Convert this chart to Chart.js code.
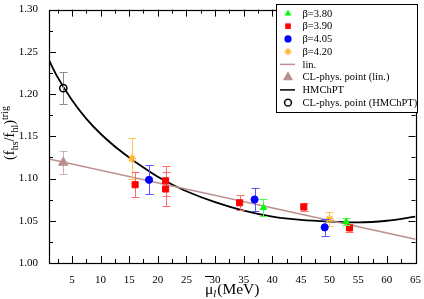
<!DOCTYPE html>
<html>
<head>
<meta charset="utf-8">
<script src="https://cdn.jsdelivr.net/npm/chart.js@4.4.0/dist/chart.umd.min.js"></script>
<style>
html, body { margin: 0; padding: 0; background: #fff; }
</style>
</head>
<body>
<canvas id="chart" width="424" height="299"></canvas>
<script>
// valeurs
const xTicks = [5, 10, 15, 20, 25, 30, 35, 40, 45, 50, 55, 60, 65];
const yTicks = [1.00, 1.05, 1.10, 1.15, 1.20, 1.25, 1.30];

const b380_x = [38.45, 52.9];
const b380_y = [1.0655, 1.0488];
const b380_err = [0.010, 0.004];

const b390_x = [16.04, 21.36, 21.36, 34.29, 45.5, 53.47];
const b390_y = [1.0927, 1.0973, 1.0876, 1.0713, 1.0663, 1.0415];
const b390_err = [0.0145, 0.0175, 0.0205, 0.009, 0.005, 0.0045];

const b405_x = [18.47, 36.9, 49.14];
const b405_y = [1.0985, 1.0752, 1.0422];
const b405_err = [0.017, 0.0135, 0.010];

const b420_x = [15.47, 49.98];
const b420_y = [1.1236, 1.052];
const b420_err = [0.024, 0.0085];

const lin_x = [1, 65];
const lin_y = [1.123, 1.028];

const clLin_x = [3.5];
const clLin_y = [1.119];
const clLin_err = [0.014];

const hm_x = [1, 2.5, 5, 7.5, 10, 12.5, 15, 17.5, 20, 22.5, 25, 30, 35, 40, 45, 50, 55, 60, 65];
const hm_y = [1.240, 1.220, 1.193, 1.171, 1.153, 1.138, 1.125, 1.113, 1.102, 1.093, 1.085, 1.072, 1.062, 1.055, 1.051, 1.049, 1.048, 1.050, 1.055];

const clHm_x = [3.5];
const clHm_y = [1.207];
const clHm_err = [0.019];

function pts(xs, ys) {
    return xs.map((x, i) => ({ x: x, y: ys[i] }));
}

const serif = '"Liberation Serif", "Times New Roman", serif';

// barres d'erreur dessinées juste avant les points du dataset
const errorBars = {
    id: 'errorBars',
    beforeDatasetDraw(chart, args) {
        const ds = chart.data.datasets[args.index];
        if (!ds.err) return;
        const ctx = chart.ctx;
        const xs = chart.scales.x, ys = chart.scales.y;
        ctx.save();
        ctx.strokeStyle = ds.errColor;
        ctx.lineWidth = 1;
        ds.data.forEach((p, i) => {
            const px = Math.round(xs.getPixelForValue(p.x)) + 0.5;
            const y1 = ys.getPixelForValue(p.y + ds.err[i]);
            const y2 = ys.getPixelForValue(p.y - ds.err[i]);
            ctx.beginPath();
            ctx.moveTo(px, y1); ctx.lineTo(px, y2);
            ctx.moveTo(px - 4, Math.round(y1) + 0.5); ctx.lineTo(px + 4, Math.round(y1) + 0.5);
            ctx.moveTo(px - 4, Math.round(y2) + 0.5); ctx.lineTo(px + 4, Math.round(y2) + 0.5);
            ctx.stroke();
        });
        ctx.restore();
    }
};

function drawSymbol(ctx, style, x, y, r, color, fill) {
    ctx.save();
    ctx.strokeStyle = color;
    ctx.fillStyle = color;
    ctx.beginPath();
    if (style === 'triangle') {
        ctx.moveTo(x, y - r);
        ctx.lineTo(x + r * 0.866, y + r * 0.5);
        ctx.lineTo(x - r * 0.866, y + r * 0.5);
        ctx.closePath();
        ctx.fill();
    } else if (style === 'rect') {
        ctx.rect(x - r * 0.7, y - r * 0.7, r * 1.4, r * 1.4);
        ctx.fill();
    } else if (style === 'circle') {
        ctx.arc(x, y, r, 0, Math.PI * 2);
        if (fill) ctx.fill();
        else { ctx.lineWidth = 1.5; ctx.stroke(); }
    } else if (style === 'star') {
        ctx.lineWidth = 1.3;
        for (let k = 0; k < 4; k++) {
            const a = k * Math.PI / 4;
            ctx.moveTo(x - Math.cos(a) * r, y - Math.sin(a) * r);
            ctx.lineTo(x + Math.cos(a) * r, y + Math.sin(a) * r);
        }
        ctx.stroke();
    } else if (style === 'line') {
        ctx.lineWidth = 1.5;
        ctx.moveTo(x - 8, y); ctx.lineTo(x + 7, y);
        ctx.stroke();
    }
    ctx.restore();
}

// cadre, graduations internes, légende et titres des axes
const decor = {
    id: 'decor',
    afterDraw(chart) {
        const ctx = chart.ctx;
        const a = chart.chartArea;
        const xs = chart.scales.x, ys = chart.scales.y;
        ctx.save();
        ctx.strokeStyle = '#000';
        ctx.lineWidth = 1;
        ctx.beginPath();
        xTicks.forEach(v => {
            const px = Math.round(xs.getPixelForValue(v)) + 0.5;
            ctx.moveTo(px, a.bottom); ctx.lineTo(px, a.bottom - 7);
            ctx.moveTo(px, a.top); ctx.lineTo(px, a.top + 7);
            const m = Math.round(xs.getPixelForValue(v - 2.5)) + 0.5;
            ctx.moveTo(m, a.bottom); ctx.lineTo(m, a.bottom - 4);
            ctx.moveTo(m, a.top); ctx.lineTo(m, a.top + 4);
        });
        yTicks.forEach(v => {
            const py = Math.round(ys.getPixelForValue(v)) + 0.5;
            ctx.moveTo(a.left, py); ctx.lineTo(a.left + 7, py);
            ctx.moveTo(a.right, py); ctx.lineTo(a.right - 7, py);
            if (v < 1.3) {
                const m = Math.round(ys.getPixelForValue(v + 0.025)) + 0.5;
                ctx.moveTo(a.left, m); ctx.lineTo(a.left + 4, m);
                ctx.moveTo(a.right, m); ctx.lineTo(a.right - 4, m);
            }
        });
        ctx.stroke();
        ctx.lineWidth = 1.2;
        ctx.strokeRect(Math.round(a.left) + 0.5, Math.round(a.top) + 0.5,
            Math.round(a.right - a.left), Math.round(a.bottom - a.top));

        // légende
        ctx.fillStyle = '#fff';
        ctx.fillRect(276.5, 4.5, 141, 108);
        ctx.lineWidth = 1;
        ctx.strokeStyle = '#000';
        ctx.strokeRect(276.5, 4.5, 141, 108);
        ctx.font = '10.5px ' + serif;
        ctx.textBaseline = 'middle';
        ctx.textAlign = 'left';
        chart.data.datasets.forEach((ds, i) => {
            const yy = 13.4 + i * 12.75;
            drawSymbol(ctx, ds.legSym, 288, yy, ds.legR, ds.legColor, ds.legFill);
            ctx.fillStyle = '#000';
            ctx.fillText(ds.label, 302.5, yy + 0.5);
        });

        // titre axe x : mu barre, indice l
        ctx.fillStyle = '#000';
        ctx.textBaseline = 'alphabetic';
        ctx.font = '15.5px ' + serif;
        let x = 205;
        ctx.fillText('\u03bc', x, 294);
        const wMu = ctx.measureText('\u03bc').width;
        ctx.beginPath();
        ctx.lineWidth = 1;
        ctx.moveTo(x, 276.5); ctx.lineTo(x + wMu, 276.5);
        ctx.stroke();
        x += wMu;
        ctx.font = 'italic 10.5px ' + serif;
        ctx.fillText('l', x, 297);
        x += ctx.measureText('l').width + 1;
        ctx.font = '15.5px ' + serif;
        ctx.fillText('(MeV)', x, 294);

        // titre axe y, tourné
        ctx.translate(14, 160);
        ctx.rotate(-Math.PI / 2);
        let t = 0;
        const parts = [
            ['(f', '14.5px ', 0], ['hs', '10px ', 3.5], ['/f', '14.5px ', 0],
            ['hl', '10px ', 3.5], [')', '14.5px ', 0], ['trig', '10px ', -6.5]
        ];
        parts.forEach(p => {
            ctx.font = p[1] + serif;
            ctx.fillText(p[0], t, p[2]);
            t += ctx.measureText(p[0]).width;
        });
        ctx.restore();
    }
};

const ctx = document.getElementById('chart').getContext('2d');
const chart = new Chart(ctx, {
    type: 'scatter',
    data: {
        datasets: [
            {
                label: '\u03b2=3.80', data: pts(b380_x, b380_y), err: b380_err, errColor: '#4dff4d',
                pointStyle: 'triangle', pointRadius: 3.6, backgroundColor: '#00ff00', borderColor: '#00ff00', borderWidth: 1,
                legSym: 'triangle', legR: 4, legColor: '#00ff00', legFill: true, order: 1
            },
            {
                label: '\u03b2=3.90', data: pts(b390_x, b390_y), err: b390_err, errColor: '#ff6a6a',
                pointStyle: 'rect', pointRadius: 4.3, backgroundColor: '#ff0000', borderColor: '#ff0000', borderWidth: 1,
                legSym: 'rect', legR: 4, legColor: '#ff0000', legFill: true, order: 1
            },
            {
                label: '\u03b2=4.05', data: pts(b405_x, b405_y), err: b405_err, errColor: '#5555ff',
                pointStyle: 'circle', pointRadius: 3.6, backgroundColor: '#0000ff', borderColor: '#0000ff', borderWidth: 1,
                legSym: 'circle', legR: 3.6, legColor: '#0000ff', legFill: true, order: 1
            },
            {
                label: '\u03b2=4.20', data: pts(b420_x, b420_y), err: b420_err, errColor: '#ffc455',
                pointStyle: 'star', pointRadius: 4, backgroundColor: '#ffb52e', borderColor: '#ffb52e', borderWidth: 1.5,
                legSym: 'star', legR: 3.5, legColor: '#ffb52e', legFill: true, order: 1
            },
            {
                label: 'lin.', type: 'line', data: pts(lin_x, lin_y), showLine: true,
                borderColor: '#bc8f8f', borderWidth: 1.5, pointRadius: 0, fill: false,
                legSym: 'line', legR: 0, legColor: '#bc8f8f', order: 10
            },
            {
                label: 'CL-phys. point (lin.)', data: pts(clLin_x, clLin_y), err: clLin_err, errColor: '#d2b0b0',
                pointStyle: 'triangle', pointRadius: 5.5, backgroundColor: '#bc8f8f', borderColor: '#bc8f8f', borderWidth: 1,
                legSym: 'triangle', legR: 6, legColor: '#bc8f8f', legFill: true, order: 1
            },
            {
                label: 'HMChPT', type: 'line', data: pts(hm_x, hm_y), showLine: true,
                borderColor: '#000', borderWidth: 1.8, pointRadius: 0, fill: false, cubicInterpolationMode: 'monotone',
                legSym: 'line', legR: 0, legColor: '#000', order: 10
            },
            {
                label: 'CL-phys. point (HMChPT)', data: pts(clHm_x, clHm_y), err: clHm_err, errColor: '#8c8c8c',
                pointStyle: 'circle', pointRadius: 3.6, backgroundColor: 'rgba(0,0,0,0)', borderColor: '#000', borderWidth: 1.5,
                legSym: 'circle', legR: 3.4, legColor: '#000', legFill: false, order: 1
            }
        ]
    },
    options: {
        responsive: false,
        animation: false,
        devicePixelRatio: 1,
        layout: { padding: { top: 5, right: 6, left: 0, bottom: 0 } },
        plugins: { legend: { display: false }, tooltip: { enabled: false } },
        scales: {
            x: {
                type: 'linear', min: 1, max: 65,
                grid: { display: false }, border: { display: false },
                afterBuildTicks: s => { s.ticks = xTicks.map(v => ({ value: v })); },
                afterFit: s => { s.height = 36; },
                ticks: { color: '#000', padding: 3, maxRotation: 0, font: { family: serif, size: 11 } }
            },
            y: {
                type: 'linear', min: 1.0, max: 1.3,
                grid: { display: false }, border: { display: false },
                afterBuildTicks: s => { s.ticks = yTicks.map(v => ({ value: v })); },
                afterFit: s => { s.width = 49; },
                ticks: { color: '#000', padding: 3, font: { family: serif, size: 11 },
                    callback: v => v.toFixed(2) }
            }
        }
    },
    plugins: [errorBars, decor]
});
</script>
</body>
</html>
